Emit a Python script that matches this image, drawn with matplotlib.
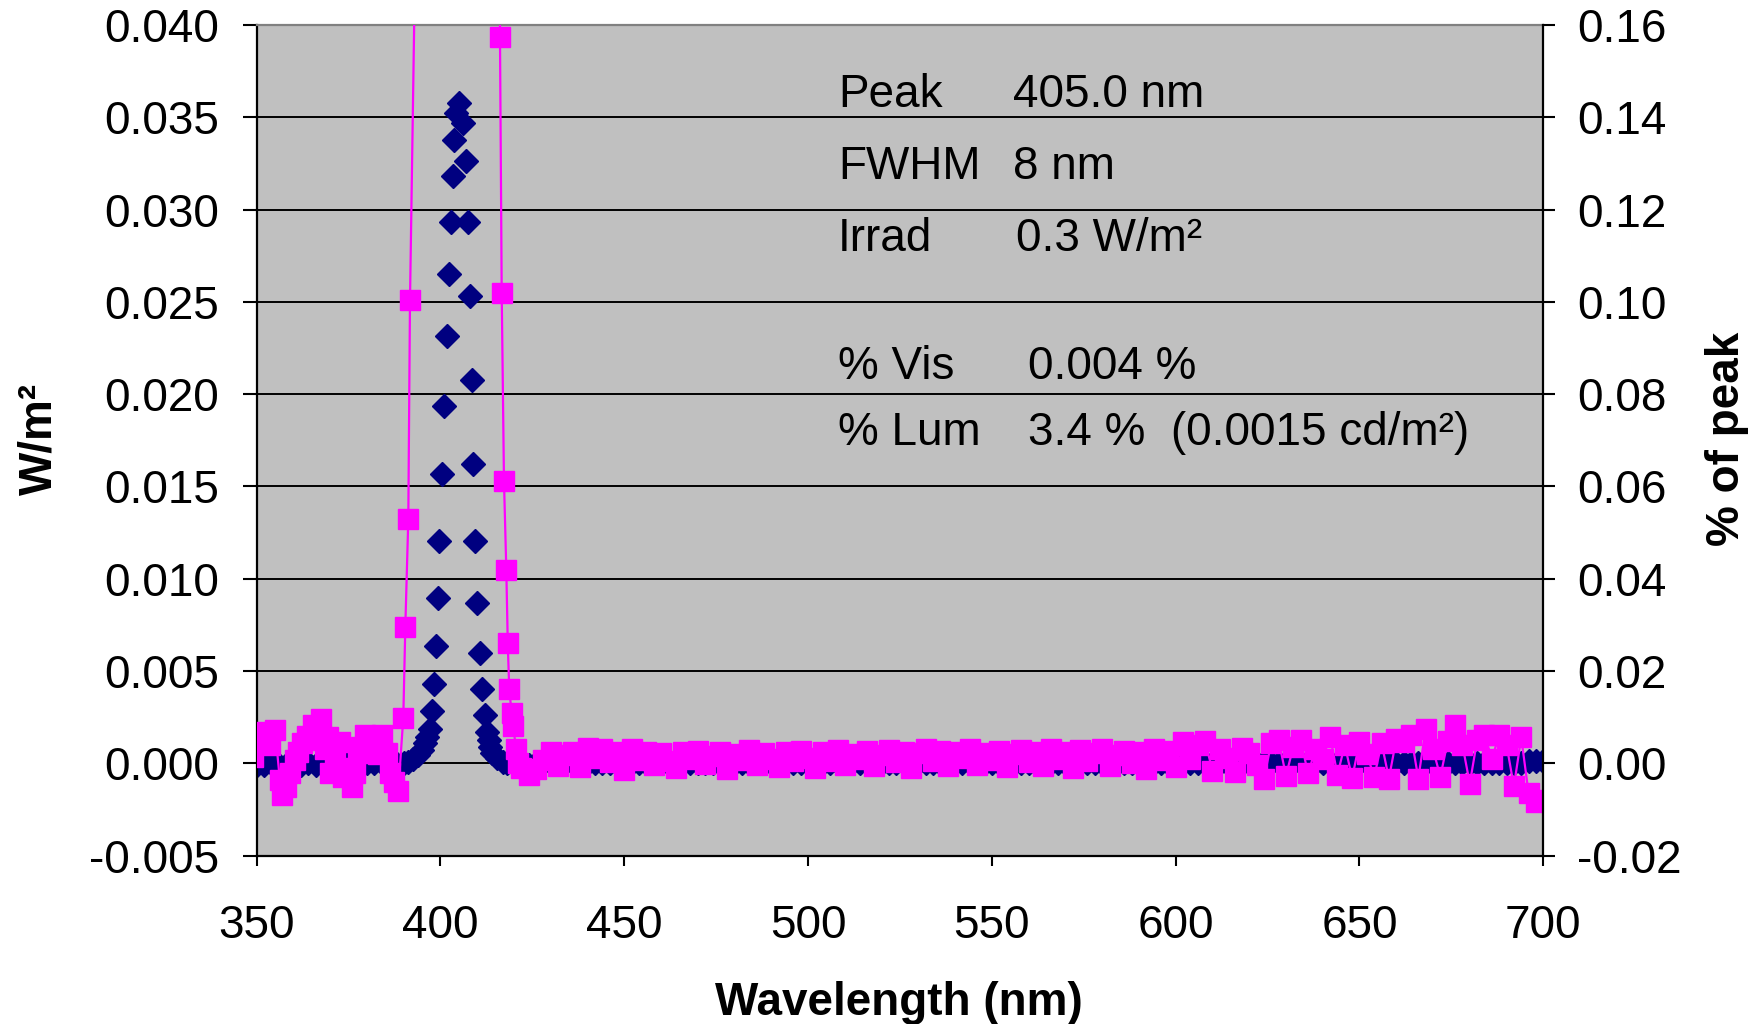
import numpy as np
import matplotlib.pyplot as plt
from matplotlib.ticker import MultipleLocator, FormatStrFormatter

plt.rcParams['font.family'] = ['Liberation Sans', 'DejaVu Sans']

# ---- irradiance (W/m2), navy diamonds, left axis ----
navy_base_left_wl = np.arange(350, 391, 2)
navy_base_left = [-0.0001, -0.0001, 0.0000, -0.0001, -0.0001, 0.0000, -0.0001,
                  0.0000, -0.0001, 0.0000, 0.0000, -0.0001, 0.0000, 0.0000,
                  -0.0001, 0.0000, 0.0000, 0.0000, 0.0000, 0.0000, 0.0000]

navy_peak_wl = [391.24, 392.6, 393.97, 395.05, 395.79, 396.42, 397.06, 397.69,
                398.31, 398.9, 399.2, 399.67, 400.33, 401.0, 401.69, 402.23,
                402.86, 403.3, 403.6, 404.13, 405.03, 406.2, 406.85, 407.56,
                408.11, 408.6, 408.9, 409.47, 410.01, 410.74, 411.37, 412.02,
                412.65, 413.28, 413.47, 413.93, 415.29, 417.1]
navy_peak = [0.00009, 0.00023, 0.00045, 0.00072, 0.00108, 0.00144, 0.00186, 0.00285,
             0.00428, 0.00635, 0.00894, 0.01206, 0.01569, 0.01934, 0.02317, 0.02651,
             0.02934, 0.03183, 0.03377, 0.03521, 0.03579, 0.03467, 0.03261, 0.02934,
             0.02532, 0.02076, 0.01621, 0.01206, 0.00867, 0.00596, 0.00402, 0.00262,
             0.00171, 0.00126, 0.00090, 0.00054, 0.00027, 0.00009]

navy_base_right_wl = np.arange(418, 701, 2)
navy_base_right = [
    0.0000, 0.0000, 0.0000, -0.0001, 0.0000, 0.0000, 0.0000, 0.0000, 0.0000, 0.0000,
    0.0000, 0.0000, 0.0000, 0.0000, 0.0000, 0.0000, 0.0000, 0.0000, 0.0000, 0.0000,
    0.0000, 0.0000, 0.0000, 0.0000, 0.0000, 0.0000, 0.0000, 0.0000, 0.0000, 0.0000,
    0.0000, 0.0000, 0.0000, 0.0000, 0.0000, 0.0000, 0.0000, 0.0000, 0.0000, 0.0000,
    0.0000, 0.0000, 0.0000, 0.0000, 0.0000, 0.0000, 0.0000, 0.0000, 0.0000, 0.0000,
    0.0000, 0.0000, 0.0000, 0.0000, 0.0000, 0.0000, 0.0000, 0.0000, 0.0000, 0.0000,
    0.0000, 0.0000, 0.0000, 0.0000, 0.0000, 0.0000, 0.0000, 0.0000, 0.0000, 0.0000,
    0.0000, 0.0000, 0.0000, 0.0000, 0.0000, 0.0000, 0.0000, 0.0000, 0.0000, 0.0000,
    0.0000, 0.0000, 0.0000, 0.0000, 0.0000, 0.0000, 0.0000, 0.0000, 0.0000, 0.0000,
    0.0000, 0.0000, 0.0000, 0.0000, 0.0000, 0.0000, 0.0000, 0.0000, 0.0000, 0.0000,
    0.0000, 0.0000, 0.0000, 0.0000, 0.0000, 0.0000, 0.0000, 0.0000, 0.0000, 0.0000,
    0.0000, 0.0000, 0.0000, 0.0000, 0.0000, 0.0000, 0.0000, 0.0000, 0.0000, 0.0000,
    0.0000, 0.0000, 0.0000, 0.0000, 0.0000, 0.0000, 0.0000, 0.0000, 0.0000, 0.0000,
    0.0000, 0.0000, 0.0000, 0.0000, 0.0000, 0.0000, 0.0000, 0.0000, 0.0000, 0.0001,
    0.0001, 0.0001]

# ---- % of peak, magenta squares + line, right axis ----
mag_left_wl = [349.1, 350.0, 351.2, 352.3, 353.6, 355.0, 356.3, 356.8, 358.0, 359.1,
               360.4, 361.3, 362.2, 363.8, 365.4, 366.3, 367.5, 368.6, 369.5, 369.9,
               371.2, 372.7, 373.6, 374.7, 375.8, 376.7, 377.6, 378.5, 379.5, 380.8,
               382.0, 383.0, 384.0, 385.4, 386.3, 387.4, 388.5]
mag_left = [0.0014, 0.0047, 0.0058, 0.0068, 0.0040, 0.0072, -0.0036, -0.0069, -0.0052, -0.0022,
            0.0007, 0.0025, 0.0043, 0.0060, 0.0083, 0.0050, 0.0095, 0.0030, 0.0058, -0.0022,
            0.0020, 0.0047, -0.0029, -0.0010, -0.0051, -0.0020, 0.0022, 0.0035, 0.0061, 0.0040,
            0.0055, 0.0020, 0.0061, 0.0022, -0.0022, -0.0040, -0.0061]

# peak of this series is far off the scale (100 % at 405 nm)
mag_peak_wl = [389.88, 390.43, 391.24, 391.70, 393.6, 405.0, 416.15, 416.18, 416.65,
               417.27, 417.9, 418.3, 418.7, 419.37, 419.8, 420.54, 421.16]
mag_peak = [0.0099, 0.0296, 0.0529, 0.1003, 0.20, 100.0, 0.35, 0.1575, 0.1019,
            0.0612, 0.0420, 0.0260, 0.0160, 0.0108, 0.0081, 0.0030, 0.0001]

mag_right_wl = np.arange(422, 701, 2)
mag_right = [
    -0.0010, -0.0026, -0.0012, 0.0007, 0.0024, -0.0006, 0.0018, 0.0025, -0.0008, 0.0033,
    0.0012, 0.0030, 0.0002, 0.0024, -0.0014, 0.0030, 0.0008, 0.0024, -0.0004, 0.0022,
    0.0006, -0.0010, 0.0024, 0.0010, 0.0026, -0.0002, 0.0016, 0.0024, -0.0012, 0.0020,
    0.0008, 0.0028, -0.0004, 0.0022, 0.0010, -0.0008, 0.0024, 0.0004, 0.0026, 0.0012,
    -0.0010, 0.0024, 0.0006, 0.0028, -0.0004, 0.0020, 0.0010, 0.0026, -0.0006, 0.0018,
    0.0028, 0.0002, 0.0024, -0.0010, 0.0022, 0.0030, 0.0004, 0.0026, -0.0006, 0.0024,
    0.0012, 0.0030, -0.0004, 0.0022, 0.0008, 0.0026, -0.0008, 0.0020, 0.0028, 0.0002,
    0.0024, -0.0006, 0.0030, 0.0010, 0.0024, -0.0010, 0.0028, 0.0004, 0.0022, 0.0032,
    -0.0006, 0.0018, 0.0026, 0.0000, 0.0024, -0.0012, 0.0030, 0.0008, 0.0026, -0.0008,
    0.0046, 0.0010, 0.0040, 0.0048, -0.0016, 0.0030, 0.0012, -0.0018, 0.0034, 0.0022,
    -0.0004, -0.0033, 0.0044, 0.0050, -0.0027, 0.0036, 0.0050, -0.0022, 0.0030, 0.0010,
    0.0058, -0.0025, 0.0040, -0.0032, 0.0046, 0.0020, -0.0030, 0.0044, -0.0033, 0.0052,
    0.0047, 0.0061, -0.0033, 0.0075, 0.0030, -0.0029, 0.0048, 0.0083, 0.0040, -0.0044,
    0.0050, 0.0062, 0.0010, 0.0061, 0.0040, -0.0050, 0.0056, -0.0065, -0.0083, -0.0080]

info_labels = ['Peak', 'FWHM', 'Irrad', '% Vis', '% Lum']
info_values = ['405.0 nm', '8 nm', '0.3 W/m\u00b2', '0.004 %', '3.4 %  (0.0015 cd/m\u00b2)']

navy_wl = np.concatenate([navy_base_left_wl, navy_peak_wl, navy_base_right_wl])
navy_val = np.concatenate([navy_base_left, navy_peak, navy_base_right])
mag_wl = np.concatenate([mag_left_wl, mag_peak_wl, mag_right_wl])
mag_val = np.concatenate([mag_left, mag_peak, mag_right])

W, H = 1765, 1024
fig = plt.figure(figsize=(W / 100, H / 100), dpi=100)
ax = fig.add_axes([256.7 / W, 1 - 855.6 / H, (1543.3 - 256.7) / W, (855.6 - 25) / H])
ax.set_facecolor('#C0C0C0')

ax.plot(navy_wl, navy_val, linestyle='none', marker='D', ms=12, color='#000080',
        markeredgecolor='#000080')
ax.set_xlim(350, 700)
ax.set_ylim(-0.005, 0.040)
ax.xaxis.set_major_locator(MultipleLocator(50))
ax.yaxis.set_major_locator(MultipleLocator(0.005))
ax.yaxis.set_major_formatter(FormatStrFormatter('%.3f'))
ax.yaxis.grid(True, color='black', lw=1.4)
ax.set_axisbelow(True)

ax2 = ax.twinx()
ax2.plot(mag_wl, mag_val, '-', color='#FF00FF', lw=1.6, marker='s', ms=14.5,
         markeredgecolor='#FF00FF')
ax2.set_ylim(-0.02, 0.16)
ax2.yaxis.set_major_locator(MultipleLocator(0.02))
ax2.yaxis.set_major_formatter(FormatStrFormatter('%.2f'))
ax2.set_xlim(350, 700)

for s in ['top', 'bottom', 'left', 'right']:
    ax2.spines[s].set_visible(False)
ax2.spines['right'].set_visible(True)
ax2.spines['right'].set_linewidth(1.6)
ax.spines['right'].set_visible(False)
ax.spines['top'].set_color('#808080')
ax.spines['top'].set_linewidth(1.6)
ax.spines['left'].set_linewidth(1.6)
ax.spines['bottom'].set_linewidth(1.6)

ax.tick_params(axis='y', direction='out', length=10, width=1.5, labelsize=33, pad=17)
ax.tick_params(axis='x', direction='out', length=7, width=1.5, labelsize=33, pad=28)
ax2.tick_params(axis='y', direction='out', length=8.5, width=1.5, labelsize=33, pad=16)

fig.text(39 / W, 1 - 439 / H, 'W/m\u00b2', rotation=90, fontsize=33, fontweight='bold',
         ha='center', va='center')
fig.text(1727 / W, 1 - 439 / H, '% of peak', rotation=90, fontsize=33, fontweight='bold',
         ha='center', va='center')
fig.text(899 / W, 1 - 1003 / H, 'Wavelength (nm)', fontsize=33, fontweight='bold',
         ha='center', va='center')

label_y = [95, 167, 239, 367, 433]
value_x = [1013, 1013, 1016, 1028, 1028]
for lab, val, y, vx in zip(info_labels, info_values, label_y, value_x):
    fig.text(838 / W, 1 - y / H, lab, fontsize=33, ha='left', va='center')
    fig.text(vx / W, 1 - y / H, val, fontsize=33, ha='left', va='center')

fig.savefig('out.png', dpi=100)
